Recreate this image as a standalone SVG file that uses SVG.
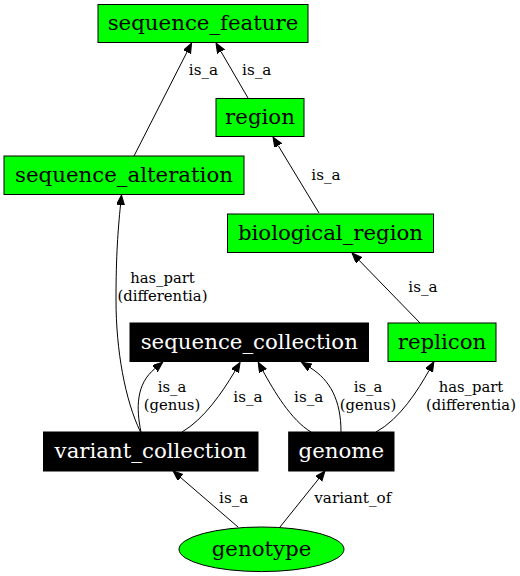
<svg xmlns="http://www.w3.org/2000/svg" width="520" height="576" viewBox="0 0 520 576">
<style>
.g rect,.g ellipse{fill:#00ff00;stroke:#000;stroke-width:1}
.b rect{fill:#000;stroke:#000;stroke-width:1}
.nt{font-family:"DejaVu Serif",serif;font-size:21.3px;text-anchor:middle;fill:#000}
.b .nt{fill:#fff}
.e path{fill:none;stroke:#000;stroke-width:1;marker-end:url(#ah)}
.el{font-family:"DejaVu Serif",serif;font-size:15.2px;text-anchor:middle;fill:#000}
.el2{font-size:14.8px}
</style>
<defs>
<marker id="ah" markerUnits="userSpaceOnUse" markerWidth="12" markerHeight="10" refX="0" refY="4" orient="auto" viewBox="0 0 12 10">
<path d="M0,0 L10,4 L0,8 z" fill="#000" stroke="#000" stroke-width="1"/>
</marker>
</defs>
<rect width="520" height="576" fill="#fff"/>
<g id="edges" class="e">
<path d="M134,156 L187,52"/>
<path d="M248,98 L221,51.6"/>
<path d="M319,213 L278.2,145.6"/>
<path d="M420,323 L359,260.2"/>
<path d="M140.5,432 C125,400 116,350 116,300 C116,255 118,230 120.5,205"/>
<path d="M141,432 C136,408 136,384 155,368.5"/>
<path d="M182,432 C204,419 222,393 235,371"/>
<path d="M311,432 C291,420 274,391 263,371"/>
<path d="M341,432 C341,400 330,380 310,367.5"/>
<path d="M376,432 C400,419 418,390 429,370.5"/>
<path d="M238,527 L180.6,477.5"/>
<path d="M280,527 L318.7,478.8"/>
<text class="el" x="203.5" y="75">is_a</text>
<text class="el" x="256.7" y="75">is_a</text>
<text class="el" x="326" y="180">is_a</text>
<text class="el" x="423" y="292">is_a</text>
<text class="el el2" x="162.5" y="283.4">has_part<tspan x="162.5" dy="17.4">(differentia)</tspan></text>
<text class="el el2" x="172" y="392.4">is_a<tspan x="172" dy="17.4">(genus)</tspan></text>
<text class="el" x="248" y="402">is_a</text>
<text class="el" x="308.7" y="402">is_a</text>
<text class="el el2" x="368" y="392.4">is_a<tspan x="368" dy="17.4">(genus)</tspan></text>
<text class="el el2" x="471" y="392.4">has_part<tspan x="471" dy="17.4">(differentia)</tspan></text>
<text class="el" x="233.7" y="503">is_a</text>
<text class="el" x="352.8" y="503">variant_of</text>
</g>
<g id="sequence_feature" class="g"><rect x="98" y="4.5" width="210" height="38"/><text class="nt" x="203" y="30">sequence_feature</text></g>
<g id="region" class="g"><rect x="216" y="98.5" width="88" height="38"/><text class="nt" x="260" y="124">region</text></g>
<g id="sequence_alteration" class="g"><rect x="4" y="156" width="240" height="38.5"/><text class="nt" x="124" y="182">sequence_alteration</text></g>
<g id="biological_region" class="g"><rect x="227.5" y="214" width="206" height="38.5"/><text class="nt" x="330.5" y="240">biological_region</text></g>
<g id="replicon" class="g"><rect x="388" y="323" width="108" height="38.5"/><text class="nt" x="442" y="349">replicon</text></g>
<g id="sequence_collection" class="b"><rect x="130" y="323" width="238.5" height="38.5"/><text class="nt" x="249.3" y="349">sequence_collection</text></g>
<g id="variant_collection" class="b"><rect x="43.5" y="432" width="214.5" height="39"/><text class="nt" x="150.7" y="458">variant_collection</text></g>
<g id="genome" class="b"><rect x="288.7" y="432" width="105.3" height="39"/><text class="nt" x="341.3" y="458">genome</text></g>
<g id="genotype" class="g"><ellipse cx="261.5" cy="549.3" rx="82.5" ry="22.3"/><text class="nt" x="261.5" y="556">genotype</text></g>
</svg>
